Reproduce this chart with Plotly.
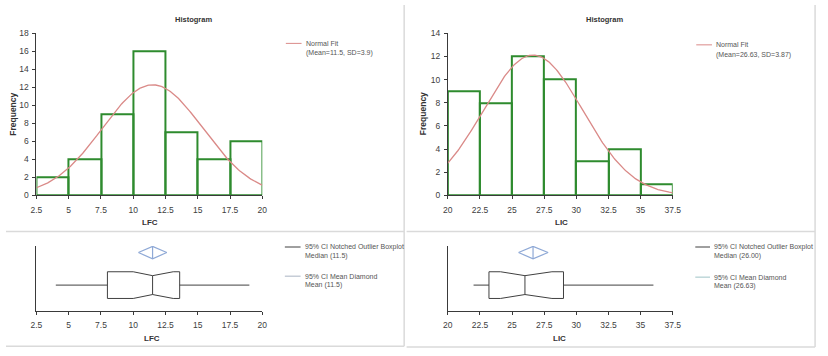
import numpy as np
import plotly.graph_objects as go

W, H = 828, 356

# ---------------- data ----------------
bin_width = 2.5
lfc_bin_starts = [2.5, 5, 7.5, 10, 12.5, 15, 17.5]
lfc_counts = [2, 4, 9, 16, 7, 4, 6]
lic_bin_starts = [20, 22.5, 25, 27.5, 30, 32.5, 35]
lic_counts = [9, 8, 12, 10, 3, 4, 1]

lfc_fit_mean, lfc_fit_sd = 11.5, 3.9
lic_fit_mean, lic_fit_sd = 26.63, 3.87

lfc_whiskers = [4.0, 19.0]
lfc_quartiles = [8.0, 13.6]
lfc_median = 11.5
lfc_notch = [10.0, 13.1]
lfc_mean = 11.5
lfc_mean_ci = [10.4, 12.6]

lic_whiskers = [22.0, 36.0]
lic_quartiles = [23.2, 29.0]
lic_median = 26.0
lic_notch = [24.1, 28.1]
lic_mean = 26.63
lic_mean_ci = [25.5, 27.8]

lfc_ticks = [2.5, 5, 7.5, 10, 12.5, 15, 17.5, 20]
lic_ticks = [20, 22.5, 25, 27.5, 30, 32.5, 35, 37.5]

# ---------------- style ----------------
FONT = "Liberation Sans, Arial, sans-serif"
GREEN = "#2E8B2E"
FIT = "#DA8A88"
AXIS = "#3a3a3a"
TXT = "#404040"
DIAM = "#8FA9D6"
BOXC = "#404040"
BORDER = "#dadada"


def px(x):
    return x / W


def py(y):
    return 1 - y / H


fig = go.Figure()


def add_hist(starts, counts, mean, sd, xa, ya):
    centers = [s + bin_width / 2 for s in starts]
    fig.add_trace(go.Bar(x=centers, y=counts, width=bin_width,
                         marker=dict(color="rgba(255,255,255,0)",
                                     line=dict(color=GREEN, width=2)),
                         xaxis=xa, yaxis=ya, showlegend=False))
    n = sum(counts)
    lo, hi = starts[0], starts[-1] + bin_width
    xs = np.linspace(lo, hi, 200)
    ys = n * bin_width / (sd * np.sqrt(2 * np.pi)) * np.exp(-0.5 * ((xs - mean) / sd) ** 2)
    fig.add_trace(go.Scatter(x=xs, y=ys, mode="lines",
                             line=dict(color=FIT, width=1.3),
                             xaxis=xa, yaxis=ya, showlegend=False))


def add_box(whisk, quart, med, notch, mean, mci, xa, ya):
    c, h, hn = 0.40, 0.205, 0.145
    bx = [quart[0], quart[0], notch[0], med, notch[1], quart[1], quart[1],
          notch[1], med, notch[0], quart[0]]
    by = [c - h, c + h, c + h, c + hn, c + h, c + h, c - h,
          c - h, c - hn, c - h, c - h]
    fig.add_trace(go.Scatter(x=bx, y=by, mode="lines",
                             line=dict(color=BOXC, width=1),
                             xaxis=xa, yaxis=ya, showlegend=False, cliponaxis=False))
    fig.add_trace(go.Scatter(x=[med, med, None, whisk[0], quart[0], None, quart[1], whisk[1]],
                             y=[c - hn, c + hn, None, c, c, None, c, c], mode="lines",
                             line=dict(color=BOXC, width=1),
                             xaxis=xa, yaxis=ya, showlegend=False, cliponaxis=False))
    dc, dh = 0.90, 0.095
    fig.add_trace(go.Scatter(x=[mci[0], mean, mci[1], mean, mci[0], None, mean, mean],
                             y=[dc, dc + dh, dc, dc - dh, dc, None, dc - dh, dc + dh],
                             mode="lines", line=dict(color=DIAM, width=1.2),
                             xaxis=xa, yaxis=ya, showlegend=False, cliponaxis=False))


add_hist(lfc_bin_starts, lfc_counts, lfc_fit_mean, lfc_fit_sd, "x", "y")
add_hist(lic_bin_starts, lic_counts, lic_fit_mean, lic_fit_sd, "x2", "y2")
add_box(lfc_whiskers, lfc_quartiles, lfc_median, lfc_notch, lfc_mean, lfc_mean_ci, "x3", "y3")
add_box(lic_whiskers, lic_quartiles, lic_median, lic_notch, lic_mean, lic_mean_ci, "x4", "y4")

tickfont = dict(family=FONT, size=8.5, color=TXT)


def xax(dom, ticks, anchor):
    return dict(domain=dom, range=[ticks[0], ticks[-1]], tickvals=ticks,
                ticktext=[f"{t:g}" for t in ticks], showline=True, linecolor=AXIS,
                linewidth=1, ticks="outside", ticklen=3, tickcolor=AXIS,
                ticklabelstandoff=3,
                showgrid=False, zeroline=False, tickfont=tickfont, anchor=anchor,
                fixedrange=True)


def yax_hist(dom, top, anchor):
    return dict(domain=dom, range=[0, top], dtick=2, showline=True, linecolor=AXIS,
                linewidth=1, ticks="outside", ticklen=3, tickcolor=AXIS,
                ticklabelstandoff=2,
                showgrid=False, zeroline=False, tickfont=tickfont, anchor=anchor,
                fixedrange=True)


def yax_box(dom, anchor):
    return dict(domain=dom, range=[0, 1], showline=True, linecolor=AXIS, linewidth=1,
                showticklabels=False, ticks="", showgrid=False, zeroline=False,
                anchor=anchor, fixedrange=True)


hist_ydom = [py(196), py(29)]
box_ydom = [py(315), py(248)]

layout = dict(
    width=W, height=H, margin=dict(l=0, r=0, t=0, b=0),
    paper_bgcolor="white", plot_bgcolor="white", showlegend=False,
    font=dict(family=FONT, color=TXT),
    xaxis=xax([px(31), px(261)], lfc_ticks, "y"),
    yaxis=yax_hist(hist_ydom, 18, "x"),
    xaxis2=xax([px(450), px(679)], lic_ticks, "y2"),
    yaxis2=yax_hist(hist_ydom, 14, "x2"),
    xaxis3=xax([px(31), px(261)], lfc_ticks, "y3"),
    yaxis3=yax_box(box_ydom, "x3"),
    xaxis4=xax([px(450), px(679)], lic_ticks, "y4"),
    yaxis4=yax_box(box_ydom, "x4"),
    bargap=0,
)
fig.update_layout(**layout)

ann = []


def text(x, y, s, size=7, bold=False, anchor="left", angle=0, color=TXT):
    if bold:
        s = f"<b>{s}</b>"
    ann.append(dict(x=px(x), y=py(y), xref="paper", yref="paper", text=s,
                    showarrow=False, xanchor=anchor, yanchor="middle",
                    textangle=angle, font=dict(family=FONT, size=size, color=color)))


# titles and axis labels
text(191, 15, "Histogram", 7.5, True, "center", color="#333")
text(610, 15, "Histogram", 7.5, True, "center", color="#333")
text(7, 112, "Frequency", 8.5, True, "center", -90, color="#333")
text(425, 112, "Frequency", 8.5, True, "center", -90, color="#333")
text(147, 224, "LFC", 8, True, "center", color="#333")
text(566, 224, "LIC", 8, True, "center", color="#333")
text(149, 343, "LFC", 8, True, "center", color="#333")
text(564, 343, "LIC", 8, True, "center", color="#333")

shapes = []


def key(x0, x1, y, color):
    shapes.append(dict(type="line", xref="paper", yref="paper", x0=px(x0), x1=px(x1),
                       y0=py(y), y1=py(y), line=dict(color=color, width=1)))


# legends
key(285, 301, 39.5, FIT)
text(303, 39.5, "Normal Fit", 7, color="#555")
text(303, 49.5, f"(Mean={lfc_fit_mean:g}, SD={lfc_fit_sd:g})", 7, color="#555")
key(703, 719, 41, FIT)
text(721, 41, "Normal Fit", 7, color="#555")
text(721, 51, f"(Mean={lic_fit_mean:g}, SD={lic_fit_sd:g})", 7, color="#555")

key(284, 300, 249, BOXC)
text(302, 249, "95% CI Notched Outlier Boxplot", 7, color="#555")
text(302, 258.5, f"Median ({lfc_median:g})", 7, color="#555")
key(284, 300, 279, "#A9B4C2")
text(302, 279, "95% CI Mean Diamond", 7, color="#555")
text(302, 288.5, f"Mean ({lfc_mean:g})", 7, color="#555")

key(702, 717, 249, BOXC)
text(719, 249, "95% CI Notched Outlier Boxplot", 7, color="#555")
text(719, 258.5, f"Median ({lic_median:.2f})", 7, color="#555")
key(702, 717, 280, "#9EC3C6")
text(719, 280, "95% CI Mean Diamond", 7, color="#555")
text(719, 289.5, f"Mean ({lic_mean:.2f})", 7, color="#555")


# panel borders
def bline(x0, y0, x1, y1):
    shapes.append(dict(type="line", xref="paper", yref="paper", x0=px(x0), x1=px(x1),
                       y0=py(y0), y1=py(y1), line=dict(color=BORDER, width=1.5),
                       layer="below"))


bline(405.5, 0, 405.5, 351)
bline(0, 233, 405.5, 233)
bline(0, 351, 405.5, 351)
bline(408, 233, 824, 233)
bline(408, 352, 824, 352)
bline(824, 0, 824, 352)

fig.update_layout(annotations=ann, shapes=shapes)
fig.write_html("out.html")
